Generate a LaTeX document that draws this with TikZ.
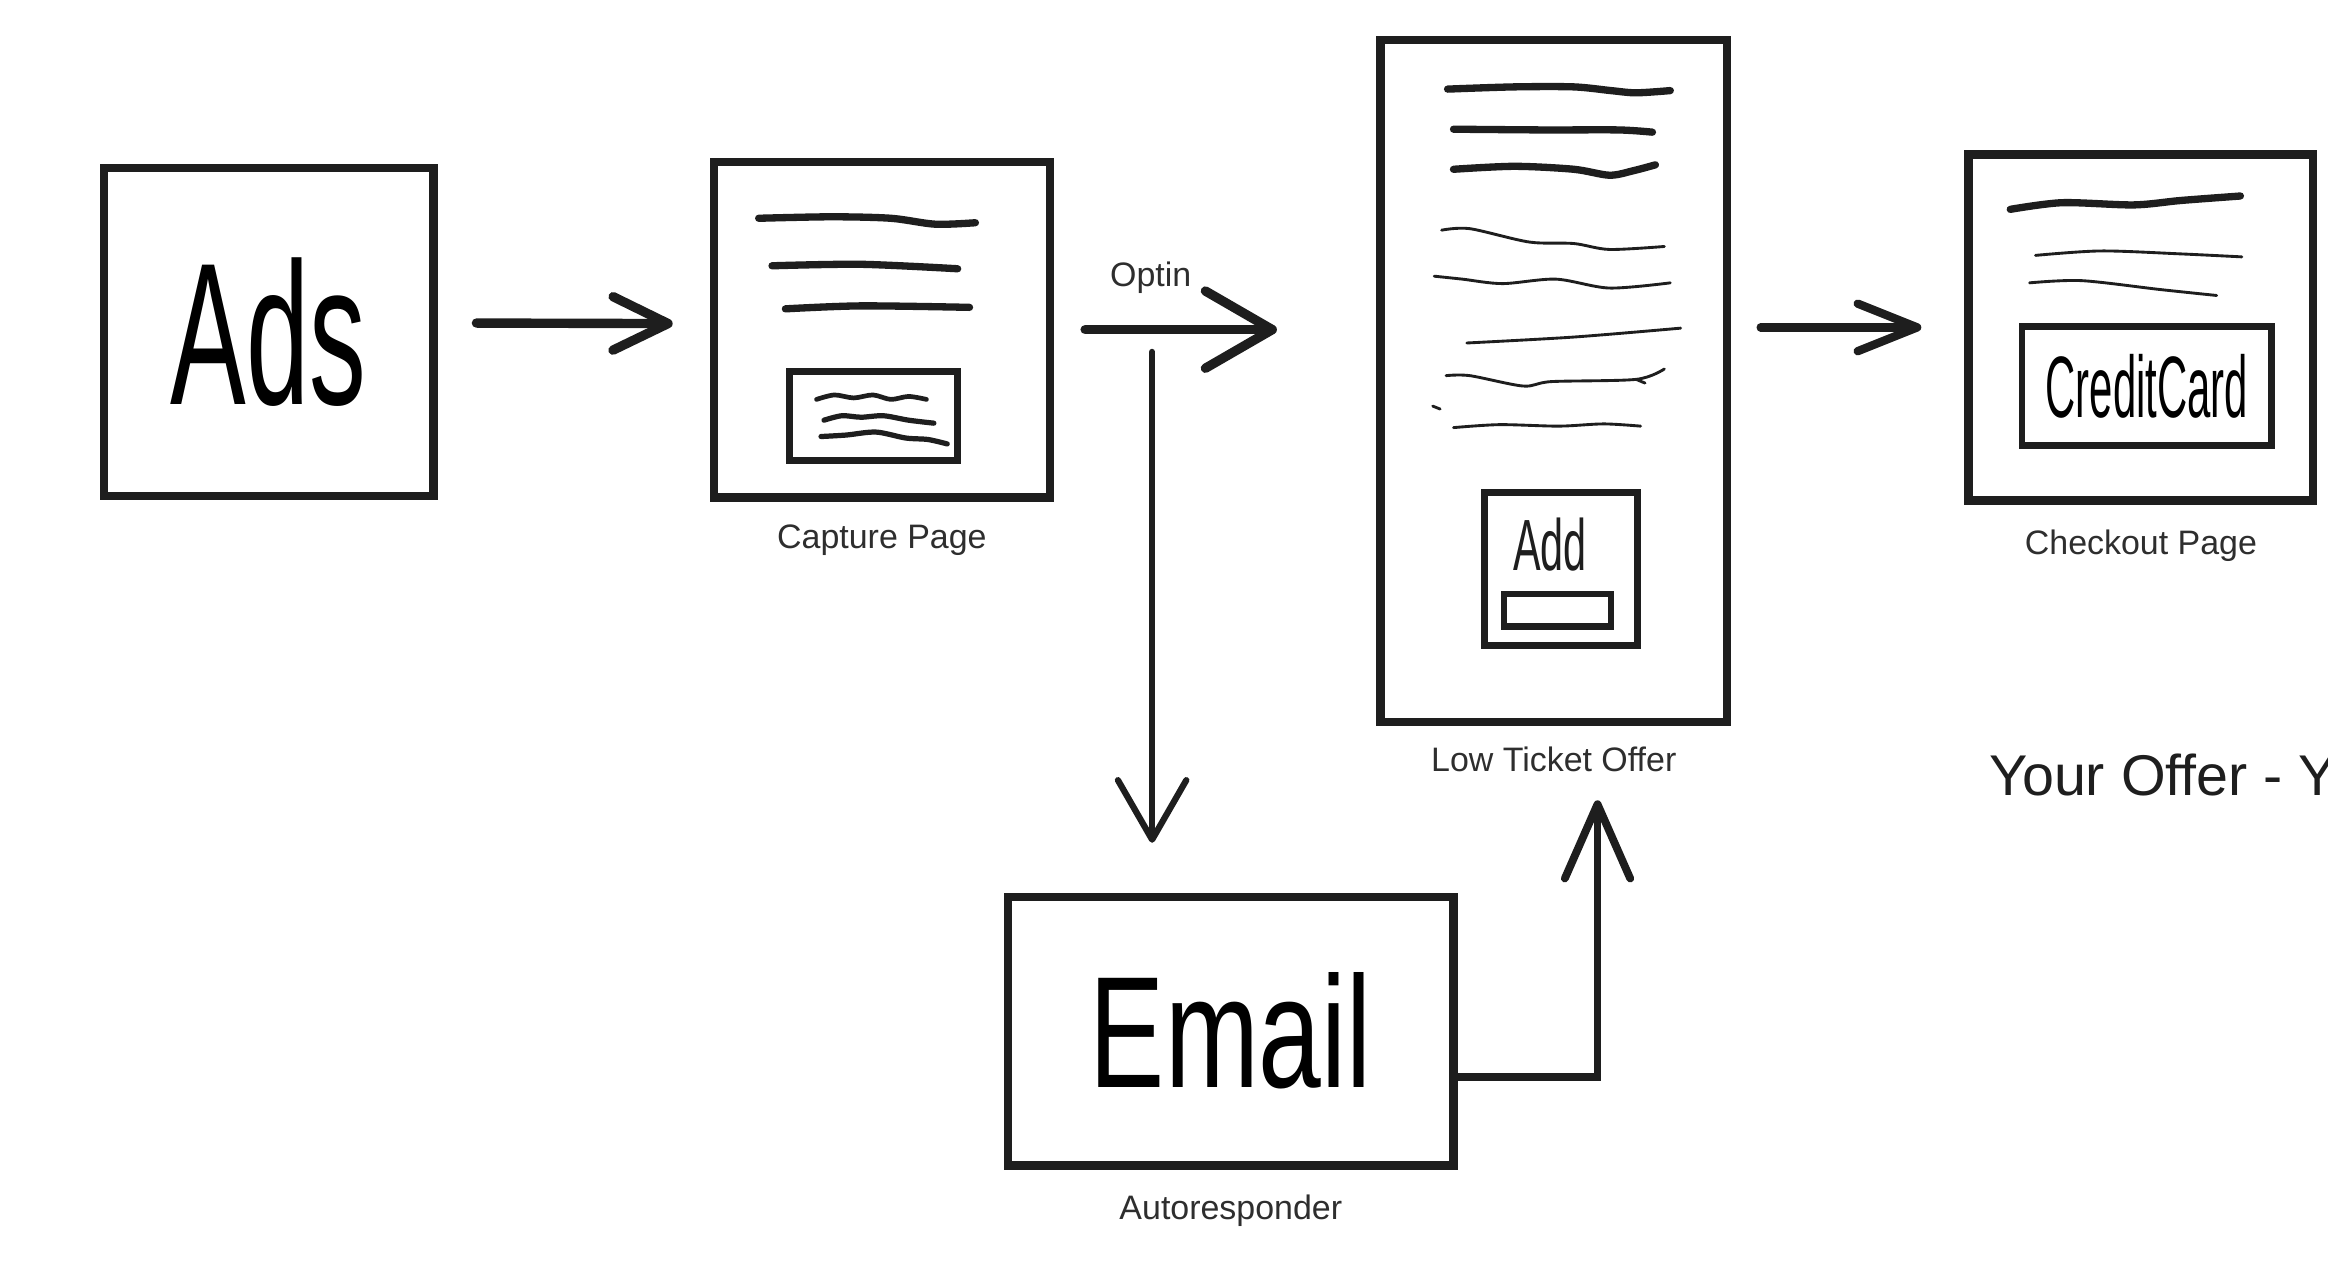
\documentclass[tikz,border=0pt]{standalone}
\usepackage{fontspec}
\setmainfont{Liberation Sans}
\usetikzlibrary{arrows.meta,positioning}
\definecolor{Ink}{HTML}{1E1E1E}
\definecolor{Quiet}{HTML}{2E2E2E}
\definecolor{Paper}{HTML}{FFFFFF}
\tikzset{
  pagebox/.style={rectangle,draw=Ink,line width=1.6pt,inner sep=0pt},
  formbox/.style={rectangle,draw=Ink,line width=1.3pt,inner sep=0pt},
  lbl/.style={font=\fontsize{6.5}{7.8}\selectfont,text=Quiet,inner sep=0pt},
  scrawl/.style={draw=Ink,line width=1.4pt,line cap=round,line join=round},
  hair/.style={draw=Ink,line width=0.55pt,line cap=round,line join=round},
  flow/.style={draw=Ink,line width=1.8pt,line cap=round,-{Straight Barb[round,length=3.7mm,width=3.6mm]}},
}
\newcommand{\handtxt}[3]{\scalebox{#1}[1]{\fontsize{#2}{#2}\selectfont #3}}

\begin{document}
\begin{tikzpicture}[x=0.01cm,y=0.01cm]
\path[use as bounding box,fill=Paper] (0,0) rectangle (1568,-850);

% pages
\node[pagebox,minimum width=2.22cm,minimum height=2.21cm] (ads) at (181,-223.5) {\handtxt{0.56}{38.8pt}{Ads}};
\node[pagebox,minimum width=2.26cm,minimum height=2.26cm] (capture) at (594,-222) {};
\node[pagebox,minimum width=2.33cm,minimum height=4.59cm] (lto) at (1046.5,-256.5) {};
\node[pagebox,minimum width=2.32cm,minimum height=2.33cm] (checkout) at (1442,-220.5) {};
\node[pagebox,minimum width=3.00cm,minimum height=1.81cm] (email) at (829,-694.5) {\handtxt{0.71}{30.4pt}{Email}\hspace{0.2cm}};

\node[lbl,below=1.5mm of capture] (capturelbl) {Capture Page};
\node[lbl,below=1.35mm of lto] (ltolbl) {Low Ticket Offer};
\node[lbl,below=1.6mm of checkout] (checkoutlbl) {Checkout Page};
\node[lbl,below=1.6mm of email] (emaillbl) {Autoresponder};
\node[anchor=base west,inner sep=0pt,font=\fontsize{11}{13}\selectfont,text=Ink] (offer) at (1339,-536) {Your Offer - Y};

% capture page
\draw[scrawl] plot[smooth] coordinates {(511,-147) (560,-146) (600,-147) (630,-151) (657,-150)};
\draw[scrawl] plot[smooth] coordinates {(520,-179) (580,-178) (645,-181)};
\draw[scrawl] plot[smooth] coordinates {(529,-208) (580,-206) (653,-207)};
\node[formbox,minimum width=1.13cm,minimum height=0.60cm] (optform) at (588.5,-280) {};
\draw[scrawl,line width=0.9pt] plot[smooth] coordinates {(550,-269) (562,-266) (575,-268) (588,-266) (600,-269) (612,-267) (624,-269)};
\draw[scrawl,line width=1pt] plot[smooth] coordinates {(555,-283) (567,-280) (580,-281) (595,-280) (612,-283) (629,-285)};
\draw[scrawl,line width=1pt] plot[smooth] coordinates {(553,-294) (570,-293) (590,-291) (610,-295) (625,-296) (638,-299)};

% low ticket offer
\draw[scrawl] plot[smooth] coordinates {(975,-60) (1020,-58.5) (1060,-58.5) (1085,-61) (1102,-62.5) (1125,-61)};
\draw[scrawl] plot[smooth] coordinates {(979,-87) (1040,-87.5) (1090,-87.5) (1113,-89)};
\draw[scrawl] plot[smooth] coordinates {(979,-114) (1020,-112) (1060,-114) (1084,-118) (1100,-115) (1115,-111)};
\draw[hair] plot[smooth] coordinates {(971,-155) (990,-154) (1030,-163) (1060,-164) (1084,-168) (1121,-166)};
\draw[hair] plot[smooth] coordinates {(966,-186) (985,-188) (1012,-191) (1048,-188) (1084,-194) (1125,-190.5)};
\draw[hair] plot[smooth] coordinates {(988,-231) (1060,-227) (1132,-221)};
\draw[hair] plot[smooth] coordinates {(974,-253) (990,-253) (1026,-260) (1045,-257) (1102,-255.5) (1121,-248.5)};
\draw[hair] (1102,-255.5) -- (1108,-258);
\draw[hair] (965,-273.5) -- (970,-275.5);
\draw[hair] plot[smooth] coordinates {(979,-288) (1010,-286) (1050,-287) (1080,-285.5) (1105,-287)};
\node[formbox,minimum width=1.03cm,minimum height=1.03cm] (addbox) at (1051.5,-383) {};
\node[inner sep=0pt,text=Ink] (addword) at (1044,-367) {\handtxt{0.57}{13.9pt}{Add}};
\node[formbox,minimum width=0.72cm,minimum height=0.22cm] (addbar) at (1049,-411) {};

% checkout page
\draw[scrawl] plot[smooth] coordinates {(1354,-141) (1389,-136.5) (1437,-138) (1469,-135) (1509,-132)};
\draw[hair] plot[smooth] coordinates {(1371,-172) (1415,-169) (1469,-171) (1510,-173)};
\draw[hair] plot[smooth] coordinates {(1367,-190.5) (1402,-189) (1455,-195) (1493,-199)};
\node[formbox,minimum width=1.68cm,minimum height=0.80cm] (card) at (1446,-260) {\handtxt{0.48}{16.7pt}{CreditCard}};

% connectors
\coordinate (optsplit) at (776,-237);
\coordinate (ltoin) at (1076,-539);
\draw[flow,shorten <=0.26cm,shorten >=0.25cm] ([yshift=0.06cm]ads.east) -- ([yshift=0.04cm]capture.west);
\draw[flow,-{Straight Barb[round,length=4.5mm,width=5.2mm]},shorten <=0.21cm,shorten >=0.67cm] (capture.east) -- (capture.east -| lto.west)
  node[lbl,above=2.1mm,pos=0.3] (optinlbl) {Optin};
\draw[flow,line width=1.2pt,-{Straight Barb[round,length=4mm,width=4.6mm]},shorten >=0.335cm] (optsplit) -- (optsplit |- email.north);
\draw[flow,line width=1.5pt,-{Straight Barb[round,length=5mm,width=4.4mm]}] ([yshift=-0.31cm]email.east) -| (ltoin);
\draw[flow,line width=1.6pt,-{Straight Barb[round,length=4mm,width=3.2mm]},shorten <=0.2cm,shorten >=0.29cm] (lto.east |- checkout.west) -- (checkout.west);
\end{tikzpicture}
\end{document}
